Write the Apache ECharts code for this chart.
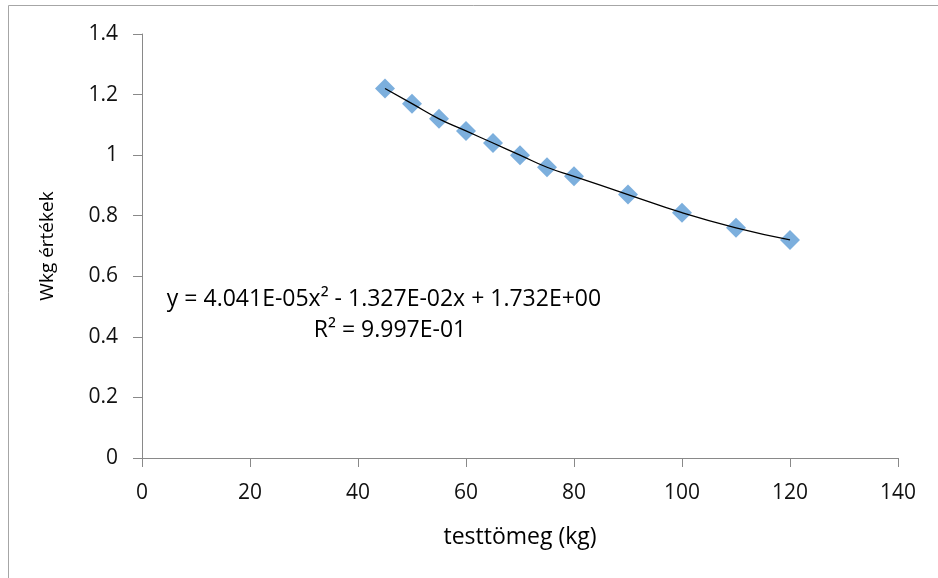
<!DOCTYPE html>
<html>
<head>
<meta charset="utf-8">
<script src="https://cdn.jsdelivr.net/npm/echarts@6/dist/echarts.min.js"></script>
<style>html,body{margin:0;padding:0;background:#fff;}#c{width:938px;height:578px;}</style>
</head>
<body>
<div id="c"></div>
<script>
const bodyMass = [45, 50, 55, 60, 65, 70, 75, 80, 90, 100, 110, 120];
const wkgValues = [1.22, 1.17, 1.12, 1.08, 1.04, 1.00, 0.96, 0.93, 0.87, 0.81, 0.76, 0.72];
const xTitle = 'testtömeg (kg)';
const yTitle = 'Wkg értékek';
const equationLine = 'y = 4.041E-05x² - 1.327E-02x + 1.732E+00';
const rSquaredLine = 'R² = 9.997E-01';

const points = bodyMass.map((x, i) => [x, wkgValues[i]]);
const FONT = 'Open Sans';
const chart = echarts.init(document.getElementById('c'), null, {renderer: 'canvas'});
chart.setOption({
  animation: false,
  backgroundColor: '#fff',
  grid: {left: 142, right: 40, top: 34, bottom: 120, containLabel: false},
  xAxis: {
    type: 'value', min: 0, max: 140, interval: 20,
    name: xTitle, nameLocation: 'middle', nameGap: 68,
    nameTextStyle: {fontFamily: FONT, fontSize: 23, color: '#000'},
    axisLine: {show: true, onZero: false, lineStyle: {color: '#898989', width: 1}},
    axisTick: {show: true, length: 9, lineStyle: {color: '#898989'}},
    axisLabel: {fontFamily: FONT, fontSize: 21, color: '#111', margin: 25},
    splitLine: {show: false}
  },
  yAxis: {
    type: 'value', min: 0, max: 1.4, interval: 0.2,
    name: yTitle, nameLocation: 'middle', nameGap: 85,
    nameTextStyle: {fontFamily: FONT, fontSize: 19, color: '#000'},
    axisLine: {show: true, lineStyle: {color: '#898989', width: 1}},
    axisTick: {show: true, length: 9, lineStyle: {color: '#898989'}},
    axisLabel: {fontFamily: FONT, fontSize: 21, color: '#111', margin: 24},
    splitLine: {show: false}
  },
  graphic: [
    {type: 'rect', shape: {x: 8.5, y: 5.5, width: 1000, height: 1000}, style: {fill: 'none', stroke: '#a6a6a6', lineWidth: 1}, silent: true, z: -1},
    {type: 'text', x: 384, y: 299, style: {text: equationLine, fontFamily: FONT, fontSize: 23, fill: '#000', align: 'center', verticalAlign: 'middle'}},
    {type: 'text', x: 390, y: 330, style: {text: rSquaredLine, fontFamily: FONT, fontSize: 23, fill: '#000', align: 'center', verticalAlign: 'middle'}}
  ],
  series: [
    {
      type: 'line', data: points, smooth: true, showSymbol: false, symbol: 'none',
      lineStyle: {color: '#000', width: 1.3}, z: 3
    },
    {
      type: 'scatter', data: points, symbol: 'diamond', symbolSize: 20,
      itemStyle: {color: '#5B9BD5'}, z: 2
    }
  ]
});
</script>
</body>
</html>
